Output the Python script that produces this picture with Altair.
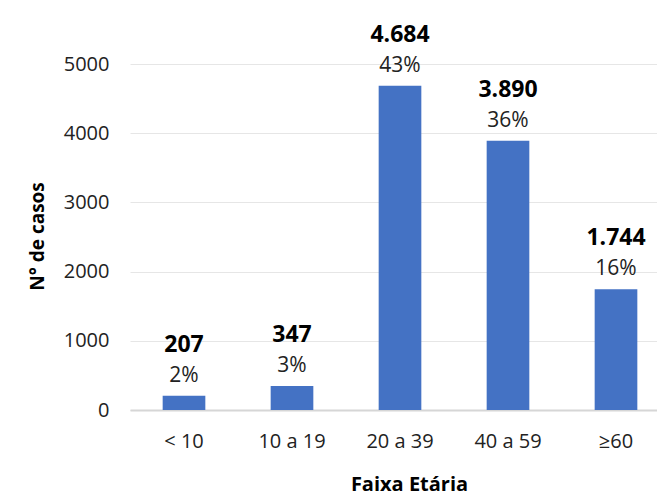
import altair as alt
import pandas as pd

categories = ["< 10", "10 a 19", "20 a 39", "40 a 59", "≥60"]
cases = [207, 347, 4684, 3890, 1744]
count_labels = ["207", "347", "4.684", "3.890", "1.744"]
pct_labels = ["2%", "3%", "43%", "36%", "16%"]
y_ticks = [0, 1000, 2000, 3000, 4000, 5000]

df = pd.DataFrame({
    "faixa": categories,
    "casos": cases,
    "num": count_labels,
    "pct": pct_labels,
})

FONT = "Open Sans"

x_enc = alt.X(
    "faixa:N",
    sort=categories,
    scale=alt.Scale(range=[0, 540], paddingInner=0.605, paddingOuter=0.3025),
    axis=alt.Axis(
        title="Faixa Etária",
        labelAngle=0,
        ticks=False,
        domainColor="#d6d6d6",
        domainWidth=2,
        labelFont=FONT,
        labelFontSize=20,
        labelColor="#222222",
        labelBaseline="alphabetic",
        labelPadding=37,
        titleFont=FONT,
        titleFontSize=20,
        titleFontWeight="bold",
        titleColor="#000000",
        titleBaseline="alphabetic",
        titleX=279,
        titleY=80,
        titleAlign="center",
        titleAnchor="start",
    ),
)

y_enc = alt.Y(
    "casos:Q",
    scale=alt.Scale(domain=[0, 5000], nice=False),
    axis=alt.Axis(
        title="N° de casos",
        values=y_ticks,
        format="d",
        ticks=False,
        domain=False,
        gridColor="#e6e6e6",
        gridWidth=1,
        labelFont=FONT,
        labelFontSize=20,
        labelColor="#222222",
        labelPadding=21,
        titleFont=FONT,
        titleFontSize=19,
        titleFontWeight="bold",
        titleColor="#000000",
        titleAngle=270,
        titleX=-93,
        titleY=172,
        titleAlign="center",
        titleBaseline="middle",
        titleAnchor="start",
    ),
)

bars = alt.Chart(df).mark_bar(color="#4472C4").encode(x=x_enc, y=y_enc)

pct_text = alt.Chart(df).mark_text(
    font=FONT, fontSize=21, color="#222222", baseline="alphabetic", dy=-14
).encode(x=alt.X("faixa:N", sort=categories), y="casos:Q", text="pct:N")

num_text = alt.Chart(df).mark_text(
    font=FONT, fontSize=23, fontWeight="bold", color="#000000",
    baseline="alphabetic", dy=-44
).encode(x=alt.X("faixa:N", sort=categories), y="casos:Q", text="num:N")

chart = (bars + pct_text + num_text).properties(
    width=527,
    height=346,
    autosize=alt.AutoSizeParams(type="none"),
    padding={"left": 122, "top": 56, "right": 0, "bottom": 85},
).configure_view(stroke=None)

chart.save("out.html", embed_options={"renderer": "svg", "actions": False})
